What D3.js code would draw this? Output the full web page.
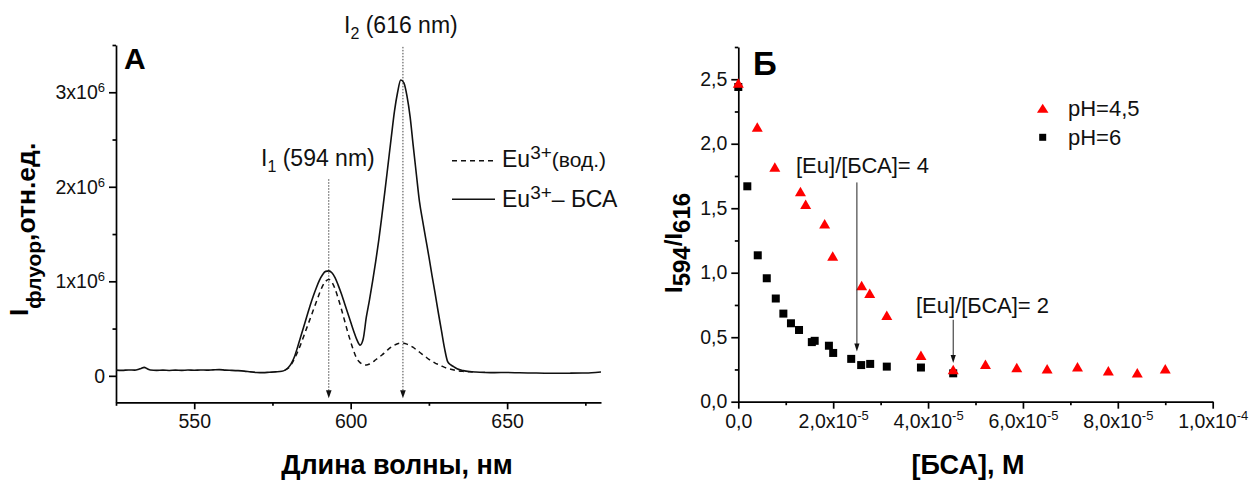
<!DOCTYPE html>
<html>
<head>
<meta charset="utf-8">
<script src="https://cdn.jsdelivr.net/npm/d3@7"></script>
<style>
  body { margin: 0; background: #fff; }
  svg { display: block; font-family: "Liberation Sans", Arial, sans-serif; }
  .axis .domain, .axis line { stroke: #000; stroke-width: 1.7; }
  .axis text { fill: #111; font-size: 19.5px; font-family: "Liberation Sans", Arial, sans-serif; }
</style>
</head>
<body>
<svg id="chart" width="1249" height="480"></svg>
<script>
// ---------- Panel A: emission spectra (intensity in units of 1e6) ----------
const wlBSA = [525,527,529,531,532,533,534,535,536,538,540,542,544,546,548,550,552,554,556,558,
  560,562,564,566,568,570,572,574,576,578,579,580,581,582,583,584,585,586,587,588,589,590,591,592,
  593,594,595,596,597,598,599,600,601,602,603,604,605,606,607,608,609,610,611,612,613,614,615,616,
  617,618,619,620,621,622,623,624,625,626,627,628,629,630,631,632,633,634,636,638,640,643,646,650,
  654,658,662,666,670,674,677,680];
const intBSA = [0.060,0.058,0.062,0.060,0.066,0.078,0.090,0.075,0.062,0.058,0.060,0.057,0.060,0.058,
  0.061,0.059,0.062,0.060,0.063,0.066,0.060,0.058,0.055,0.050,0.042,0.036,0.034,0.038,0.042,0.048,
  0.060,0.085,0.13,0.20,0.30,0.41,0.52,0.63,0.74,0.84,0.93,1.01,1.07,1.105,1.11,1.09,1.04,0.96,0.87,
  0.77,0.67,0.57,0.47,0.38,0.325,0.39,0.62,0.80,1.00,1.21,1.44,1.70,1.97,2.25,2.53,2.80,3.00,3.13,
  3.10,2.96,2.74,2.43,2.13,1.84,1.64,1.45,1.26,1.06,0.87,0.67,0.48,0.29,0.15,0.115,0.095,0.075,
  0.055,0.045,0.040,0.036,0.034,0.035,0.032,0.030,0.028,0.027,0.028,0.030,0.033,0.040];

const wlAq = [579,580,581,582,583,584,585,586,587,588,589,590,591,592,593,594,595,596,597,598,599,
  600,601,602,603,604,605,606,607,608,609,610,611,612,613,614,615,616,617,618,619,620,621,622,623,
  624,625,626,627,628,629,630,632,634,636,638,640];
const intAq = [0.06,0.08,0.12,0.18,0.25,0.33,0.42,0.51,0.60,0.69,0.78,0.87,0.95,1.00,1.02,0.99,0.92,
  0.82,0.71,0.59,0.47,0.36,0.26,0.18,0.14,0.12,0.115,0.125,0.145,0.17,0.195,0.22,0.25,0.28,0.305,
  0.325,0.34,0.345,0.345,0.335,0.32,0.30,0.275,0.25,0.225,0.20,0.175,0.155,0.135,0.12,0.105,0.09,
  0.07,0.055,0.047,0.042,0.040];

const xTicksA = [550, 600, 650];
const xMinorA = [525, 575, 625, 675];
const yTicksA = [0, 1e6, 2e6, 3e6];
const yMinorA = [0.5e6, 1.5e6, 2.5e6, 3.5e6];

// peak markers: wavelength and top of the dotted guide (intensity)
const peakWl = [593, 616.7];
const peakTop = [2.08e6, 3.48e6];

// ---------- Panel B: I594/I616 ratio vs [BSA] ----------
const bsaPH45 = [0, 0.40e-5, 0.77e-5, 1.31e-5, 1.42e-5, 1.82e-5, 1.99e-5, 2.60e-5, 2.77e-5, 3.13e-5,
  3.85e-5, 4.53e-5, 5.21e-5, 5.87e-5, 6.51e-5, 7.15e-5, 7.80e-5, 8.41e-5, 9.00e-5];
const ratioPH45 = [2.47, 2.13, 1.82, 1.63, 1.53, 1.38, 1.13, 0.90, 0.84, 0.67, 0.36, 0.25, 0.29,
  0.265, 0.255, 0.27, 0.24, 0.225, 0.255];

const bsaPH6 = [0, 0.19e-5, 0.41e-5, 0.60e-5, 0.79e-5, 0.95e-5, 1.11e-5, 1.28e-5, 1.55e-5, 1.61e-5,
  1.91e-5, 2.00e-5, 2.38e-5, 2.59e-5, 2.78e-5, 3.13e-5, 3.85e-5, 4.53e-5];
const ratioPH6 = [2.44, 1.67, 1.135, 0.957, 0.80, 0.683, 0.608, 0.556, 0.462, 0.472, 0.434, 0.378,
  0.332, 0.284, 0.293, 0.272, 0.265, 0.22];

const xTicksB = [0, 2e-5, 4e-5, 6e-5, 8e-5, 1e-4];
const xMinorB = [1e-5, 3e-5, 5e-5, 7e-5, 9e-5];
const yTicksB = [0, 0.5, 1.0, 1.5, 2.0, 2.5];
const yMinorB = [0.25, 0.75, 1.25, 1.75, 2.25, 2.75];

// stoichiometry annotations: [BSA] position, arrow top and tip (ratio units)
const annoText = ["[Eu]/[БСА]= 4", "[Eu]/[БСА]= 2"];
const annoBsa = [2.5e-5, 4.53e-5];
const annoTop = [1.70, 0.635];
const annoTip = [0.39, 0.30];

const svg = d3.select("#chart");

// superscript-aware tick label writer
function writeLabel(text, base, sup, supSize, supDy) {
  text.text(null);
  text.append("tspan").text(base);
  if (sup) text.append("tspan").attr("font-size", supSize).attr("dy", supDy).text(sup);
}

// ================= Panel A =================
const xA = d3.scaleLinear().domain([525, 680]).range([116, 601]);
const yA = d3.scaleLinear().domain([-0.28e6, 3.5e6]).range([402.3, 45]);
const gA = svg.append("g");

gA.append("g").attr("class", "axis").attr("transform", `translate(0,${yA.range()[0]})`)
  .call(d3.axisBottom(xA).tickValues(xTicksA).tickSize(7).tickSizeOuter(0).tickPadding(5)
    .tickFormat(d3.format("d")));
gA.append("g").attr("class", "axis").attr("transform", `translate(0,${yA.range()[0]})`)
  .call(d3.axisBottom(xA).tickValues(xMinorA).tickSize(3.5).tickSizeOuter(0).tickFormat(""))
  .select(".domain").remove();

gA.append("g").attr("class", "axis").attr("transform", `translate(${xA.range()[0]},0)`)
  .call(d3.axisLeft(yA).tickValues(yTicksA).tickSize(7).tickSizeOuter(0).tickPadding(4))
  .selectAll(".tick text").each(function (d) {
    const t = d3.select(this);
    if (d === 0) writeLabel(t, "0");
    else writeLabel(t, `${d / 1e6}x10`, "6", 13, -7);
  });
gA.append("g").attr("class", "axis").attr("transform", `translate(${xA.range()[0]},0)`)
  .call(d3.axisLeft(yA).tickValues(yMinorA).tickSize(3.5).tickSizeOuter(0).tickFormat(""))
  .select(".domain").remove();

// dotted guides with arrowheads at peak positions
const yBase = yA.range()[0];
peakWl.forEach((w, i) => {
  const x = xA(w);
  gA.append("line").attr("x1", x).attr("x2", x).attr("y1", yA(peakTop[i])).attr("y2", yBase - 10)
    .attr("stroke", "#444").attr("stroke-width", 1).attr("stroke-dasharray", "1.5,1.5");
  gA.append("path")
    .attr("d", `M${x - 2.8},${yBase - 12} L${x + 2.8},${yBase - 12} L${x},${yBase - 4} Z`)
    .attr("fill", "#111");
});

const lineA = d3.line().curve(d3.curveMonotoneX).x(d => xA(d[0])).y(d => yA(d[1] * 1e6));
gA.append("path").datum(d3.zip(wlAq, intAq)).attr("d", lineA)
  .attr("fill", "none").attr("stroke", "#111").attr("stroke-width", 1.5)
  .attr("stroke-dasharray", "5,4");
gA.append("path").datum(d3.zip(wlBSA, intBSA)).attr("d", lineA)
  .attr("fill", "none").attr("stroke", "#111").attr("stroke-width", 1.6);

// panel letter and peak labels
gA.append("text").attr("x", 124).attr("y", 68.5).attr("font-size", 30).attr("font-weight", "bold")
  .text("A");
const pl1 = gA.append("text").attr("x", 261).attr("y", 165.5).attr("font-size", 23).attr("fill", "#111");
pl1.append("tspan").text("I");
pl1.append("tspan").attr("font-size", 16).attr("dy", 6).text("1");
pl1.append("tspan").attr("dy", -6).text(" (594 nm)");
const pl2 = gA.append("text").attr("x", 344).attr("y", 33).attr("font-size", 23).attr("fill", "#111");
pl2.append("tspan").text("I");
pl2.append("tspan").attr("font-size", 16).attr("dy", 6).text("2");
pl2.append("tspan").attr("dy", -6).text(" (616 nm)");

// legend
const legA = gA.append("g");
legA.append("line").attr("x1", 452).attr("x2", 495).attr("y1", 160.7).attr("y2", 160.7)
  .attr("stroke", "#111").attr("stroke-width", 1.4).attr("stroke-dasharray", "5,4");
legA.append("line").attr("x1", 452).attr("x2", 495).attr("y1", 199.3).attr("y2", 199.3)
  .attr("stroke", "#111").attr("stroke-width", 1.6);
const la1 = legA.append("text").attr("x", 502).attr("y", 167).attr("font-size", 23).attr("fill", "#111");
la1.append("tspan").text("Eu");
la1.append("tspan").attr("font-size", 19).attr("dy", -8).text("3+");
la1.append("tspan").attr("font-size", 21).attr("dy", 8).text("(вод.)");
const la2 = legA.append("text").attr("x", 502).attr("y", 206.5).attr("font-size", 23).attr("fill", "#111");
la2.append("tspan").text("Eu");
la2.append("tspan").attr("font-size", 19).attr("dy", -8).text("3+");
la2.append("tspan").attr("dy", 8).text("– БСА");

// axis titles
gA.append("text").attr("x", 397).attr("y", 474).attr("text-anchor", "middle")
  .attr("font-size", 27).attr("font-weight", "bold").text("Длина волны, нм");
const yTitleA = gA.append("text").attr("transform", "translate(28,316) rotate(-90)")
  .attr("font-weight", "bold").attr("font-size", 26.5).attr("fill", "#000");
yTitleA.append("tspan").text("I");
yTitleA.append("tspan").attr("font-size", 21).attr("dy", 13).text("флуор");
yTitleA.append("tspan").attr("dy", -6.5).text(",отн.ед.");

// ================= Panel B =================
const xB = d3.scaleLinear().domain([0, 1e-4]).range([738.3, 1212.7]);
const yB = d3.scaleLinear().domain([0, 2.75]).range([401.7, 47]);
const gB = svg.append("g");

gB.append("g").attr("class", "axis").attr("transform", `translate(0,${yB.range()[0]})`)
  .call(d3.axisBottom(xB).tickValues(xTicksB).tickSize(7).tickSizeOuter(0).tickPadding(5))
  .selectAll(".tick text").each(function (d) {
    const t = d3.select(this);
    if (d === 0) { writeLabel(t, "0,0"); return; }
    const e = Math.floor(Math.log10(d) + 1e-9);
    const m = d / Math.pow(10, e);
    writeLabel(t, `${m.toFixed(1).replace(".", ",")}x10`, `${e}`, 13, -8);
  });
gB.append("g").attr("class", "axis").attr("transform", `translate(0,${yB.range()[0]})`)
  .call(d3.axisBottom(xB).tickValues(xMinorB).tickSize(3.5).tickSizeOuter(0).tickFormat(""))
  .select(".domain").remove();

gB.append("g").attr("class", "axis").attr("transform", `translate(${xB.range()[0]},0)`)
  .call(d3.axisLeft(yB).tickValues(yTicksB).tickSize(7).tickSizeOuter(0).tickPadding(4)
    .tickFormat(d => d.toFixed(1).replace(".", ",")));
gB.append("g").attr("class", "axis").attr("transform", `translate(${xB.range()[0]},0)`)
  .call(d3.axisLeft(yB).tickValues(yMinorB).tickSize(3.5).tickSizeOuter(0).tickFormat(""))
  .select(".domain").remove();

const triPath = (w, h) => `M0,${-h / 2} L${w / 2},${h / 2} L${-w / 2},${h / 2} Z`;

// pH 6 squares
gB.append("g").selectAll("rect").data(d3.zip(bsaPH6, ratioPH6)).join("rect")
  .attr("x", d => xB(d[0]) - 4).attr("y", d => yB(d[1]) - 4)
  .attr("width", 8).attr("height", 8).attr("fill", "#000");
// pH 4.5 triangles
gB.append("g").selectAll("path").data(d3.zip(bsaPH45, ratioPH45)).join("path")
  .attr("transform", d => `translate(${xB(d[0])},${yB(d[1])})`)
  .attr("d", triPath(11, 9.5)).attr("fill", "#ff0000");

// annotations with arrows
annoBsa.forEach((c, i) => {
  const x = xB(c);
  const yt = yB(annoTop[i]), yp = yB(annoTip[i]);
  gB.append("line").attr("x1", x).attr("x2", x).attr("y1", yt).attr("y2", yp - 6)
    .attr("stroke", "#222").attr("stroke-width", 1);
  gB.append("path").attr("d", `M${x - 2.6},${yp - 8} L${x + 2.6},${yp - 8} L${x},${yp} Z`)
    .attr("fill", "#111");
});
gB.append("text").attr("x", 796).attr("y", 173).attr("font-size", 22).attr("fill", "#111").text(annoText[0]);
gB.append("text").attr("x", 916).attr("y", 313).attr("font-size", 22).attr("fill", "#111").text(annoText[1]);

// legend
gB.append("path").attr("transform", "translate(1042.7,108.3)").attr("d", triPath(11.5, 9))
  .attr("fill", "#ff0000");
gB.append("rect").attr("x", 1039.2).attr("y", 133.8).attr("width", 7).attr("height", 7).attr("fill", "#000");
gB.append("text").attr("x", 1068).attr("y", 115.5).attr("font-size", 22).attr("fill", "#111").text("pH=4,5");
gB.append("text").attr("x", 1068).attr("y", 144.5).attr("font-size", 22).attr("fill", "#111").text("pH=6");

// panel letter and axis titles
gB.append("text").attr("x", 753).attr("y", 75).attr("font-size", 33).attr("font-weight", "bold").text("Б");
gB.append("text").attr("x", 968).attr("y", 474).attr("text-anchor", "middle")
  .attr("font-size", 27).attr("font-weight", "bold").text("[БСА], М");
const yTitleB = gB.append("text").attr("transform", "translate(682,293) rotate(-90)")
  .attr("font-weight", "bold").attr("font-size", 24).attr("fill", "#000");
yTitleB.append("tspan").text("I");
yTitleB.append("tspan").attr("dy", 8).text("594");
yTitleB.append("tspan").attr("dy", -8).text("/I");
yTitleB.append("tspan").attr("dy", 8).text("616");
</script>
</body>
</html>
